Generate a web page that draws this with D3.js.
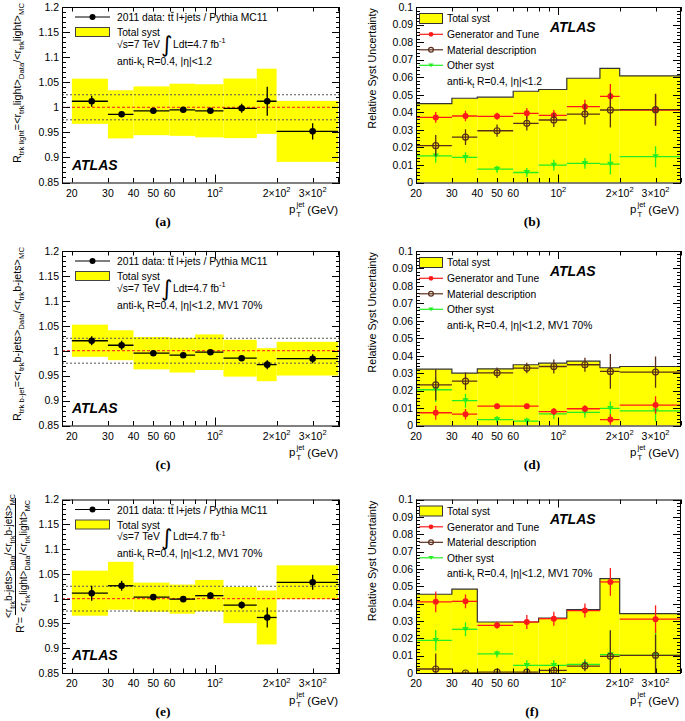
<!DOCTYPE html>
<html>
<head>
<meta charset="utf-8">
<script src="https://cdn.jsdelivr.net/npm/d3@7"></script>
<style>
  body { margin: 0; background: #fff; }
  svg { display: block; font-family: "Liberation Sans", Arial, sans-serif; }
</style>
</head>
<body>
<svg id="chart" width="685" height="721"></svg>
<script>
// ---- data ----
const binEdges = [20, 30, 40, 60, 80, 110, 160, 200, 400];
const binCenters = [25, 35, 50, 70, 95, 135, 180, 300];

const xTickVals = [20, 30, 40, 50, 60, 100, 200, 300];
const xTickLabels = [["20"], ["30"], ["40"], ["50"], ["60"], ["10", "2"], ["2\u00d710", "2"], ["3\u00d710", "2"]];
const xMinorTicks = [20, 30, 40, 50, 60, 70, 80, 90, 100, 200, 300, 400];

const ratioTicks = [0.85, 0.9, 0.95, 1, 1.05, 1.1, 1.15, 1.2];
const ratioTickLabels = ["0.85", "0.9", "0.95", "1", "1.05", "1.1", "1.15", "1.2"];
const systTicks = [0, 0.01, 0.02, 0.03, 0.04, 0.05, 0.06, 0.07, 0.08, 0.09, 0.1];
const systTickLabels = ["0", "0.01", "0.02", "0.03", "0.04", "0.05", "0.06", "0.07", "0.08", "0.09", "0.1"];

// (a) light jets ratio
const ratioLight = [1.012, 0.986, 0.993, 0.995, 0.993, 0.998, 1.012, 0.952];
const ratioLightErr = [0.011, 0.004, 0.004, 0.005, 0.005, 0.009, 0.029, 0.016];
// (b) light jets syst
const systLightTotal = [0.045, 0.048, 0.0486, 0.052, 0.053, 0.0594, 0.065, 0.0608];
const systLightGen = [0.0371, 0.0379, 0.0377, 0.0394, 0.0383, 0.0432, 0.0491, 0.0413];
const systLightGenErr = [0.003, 0.003, 0.002, 0.003, 0.003, 0.004, 0.007, 0.009];
const systLightMat = [0.021, 0.0259, 0.0295, 0.0337, 0.0356, 0.039, 0.0413, 0.0415];
const systLightMatErr = [0.006, 0.0045, 0.0035, 0.004, 0.004, 0.006, 0.010, 0.009];
const systLightOth = [0.0152, 0.0143, 0.0076, 0.0057, 0.0099, 0.0109, 0.0105, 0.0147];
const systLightOthErr = [0.004, 0.003, 0.002, 0.0025, 0.003, 0.003, 0.006, 0.006];

// (c) b-jets ratio
const ratioB = [1.020, 1.011, 0.995, 0.991, 0.997, 0.985, 0.972, 0.984];
const ratioBErr = [0.009, 0.009, 0.003, 0.003, 0.005, 0.003, 0.009, 0.009];
// (d) b-jets syst
const systBTotal = [0.0323, 0.030, 0.0325, 0.0348, 0.0357, 0.0369, 0.0331, 0.0338];
const systBGen = [0.0073, 0.0065, 0.0111, 0.0111, 0.008, 0.0096, 0.0034, 0.0117];
const systBGenErr = [0.004, 0.003, 0.0015, 0.0015, 0.002, 0.002, 0.003, 0.005];
const systBMat = [0.0233, 0.0254, 0.0302, 0.0329, 0.0338, 0.0348, 0.031, 0.0306];
const systBMatErr = [0.009, 0.005, 0.003, 0.003, 0.004, 0.004, 0.010, 0.009];
const systBOth = [0.0205, 0.0142, 0.0034, 0.0025, 0.0067, 0.0075, 0.0098, 0.0084];
const systBOthErr = [0.007, 0.004, 0.002, 0.002, 0.003, 0.003, 0.004, 0.006];

// (e) double ratio
const ratioDouble = [1.011, 1.026, 1.003, 0.999, 1.006, 0.987, 0.962, 1.033];
const ratioDoubleErr = [0.015, 0.010, 0.004, 0.005, 0.007, 0.007, 0.020, 0.015];
// (f) double ratio syst
const systDoubleTotal = [0.0454, 0.0483, 0.0294, 0.0294, 0.0317, 0.0365, 0.0544, 0.0342];
const systDoubleGen = [0.041, 0.0413, 0.0275, 0.0294, 0.0313, 0.036, 0.0525, 0.031];
const systDoubleGenErr = [0.006, 0.004, 0.002, 0.004, 0.004, 0.004, 0.008, 0.008];
const systDoubleMat = [0.0023, 0.0, 0.0005, 0.0005, 0.0015, 0.004, 0.0096, 0.0102];
const systDoubleMatErr = [0.009, 0.001, 0.001, 0.001, 0.002, 0.003, 0.015, 0.012];
const systDoubleOth = [0.0188, 0.0252, 0.011, 0.0044, 0.0044, 0.005, 0.0106, 0.0102];
const systDoubleOthErr = [0.006, 0.004, 0.002, 0.003, 0.003, 0.003, 0.014, 0.015];

// ---- layout ----
const rowTop = [7, 251, 499.5];
const rowBot = [182.5, 425.5, 673];
const leftX = [62, 340];
const rightX = [416, 681];
const YELLOW = "#ffff00";
const RED = "#ff1a1a";
const BROWN = "#5a2e1a";
const GREEN = "#22ee22";

const svg = d3.select("#chart");
svg.append("rect").attr("width", 685).attr("height", 721).attr("fill", "#fff");

// text with sub/superscripts: parts = [[str, 'n'|'b'|'p'], ...]
function rich(t, parts, size) {
  let cur = 0;
  parts.forEach(([s, m]) => {
    const off = m === "b" ? size * 0.3 : m === "p" ? -size * 0.42 : 0;
    t.append("tspan")
      .attr("dy", off - cur)
      .attr("font-size", m === "n" ? size : size * 0.72)
      .text(s);
    cur = off;
  });
  return t;
}

let clipId = 0;
function makeFrame(xr, yTop, yBot, xDomain, yDomain) {
  const x = d3.scaleLog().domain(xDomain).range(xr);
  const y = d3.scaleLinear().domain(yDomain).range([yBot, yTop]);
  const id = "clip" + (clipId++);
  svg.append("clipPath").attr("id", id).append("rect")
    .attr("x", xr[0]).attr("y", yTop).attr("width", xr[1] - xr[0]).attr("height", yBot - yTop);
  const g = svg.append("g").attr("clip-path", "url(#" + id + ")");
  return { x, y, g, xr, yTop, yBot };
}

function drawAxes(f, ticks, labels, minorStep) {
  const { x, y, xr, yTop, yBot } = f;
  const ax = svg.append("g").attr("stroke", "#000").attr("stroke-width", 1);
  // y ticks (left & right, inside)
  const [y0, y1] = y.domain();
  const nMinor = Math.round((y1 - y0) / minorStep);
  for (let i = 0; i <= nMinor; i++) {
    const v = y0 + i * minorStep;
    const major = ticks.some(t => Math.abs(t - v) < minorStep / 10);
    const len = major ? 8 : 4;
    const yy = Math.round(y(v)) + 0.5;
    ax.append("line").attr("x1", xr[0]).attr("x2", xr[0] + len).attr("y1", yy).attr("y2", yy);
    ax.append("line").attr("x1", xr[1]).attr("x2", xr[1] - len).attr("y1", yy).attr("y2", yy);
  }
  // x ticks (bottom & top, inside)
  xMinorTicks.forEach(v => {
    if (v < x.domain()[0] || v > x.domain()[1]) return;
    const len = v === 100 ? 8 : 4.5;
    const xx = Math.round(x(v)) + 0.5;
    ax.append("line").attr("x1", xx).attr("x2", xx).attr("y1", yBot).attr("y2", yBot - len);
    ax.append("line").attr("x1", xx).attr("x2", xx).attr("y1", yTop).attr("y2", yTop + len);
  });
  // frame
  svg.append("rect").attr("x", xr[0] + 0.5).attr("y", yTop + 0.5)
    .attr("width", xr[1] - xr[0] - 1).attr("height", yBot - yTop)
    .attr("fill", "none").attr("stroke", "#000").attr("stroke-width", 1);
  // y labels
  ticks.forEach((v, i) => {
    svg.append("text").attr("x", xr[0] - 3).attr("y", y(v) + 3.8)
      .attr("text-anchor", "end").attr("font-size", 10.5).text(labels[i]);
  });
  // x labels
  xTickVals.forEach((v, i) => {
    const t = svg.append("text").attr("x", x(v)).attr("y", yBot + 14)
      .attr("text-anchor", "middle").attr("font-size", 10.5);
    const lab = xTickLabels[i];
    if (lab.length === 1) t.text(lab[0]);
    else rich(t, [[lab[0], "n"], [lab[1], "p"]], 10.5);
  });
  // x title
  const xe = xr[1];
  svg.append("text").attr("x", xe - 51).attr("y", yBot + 30.5).attr("font-size", 11.5).text("p");
  svg.append("text").attr("x", xe - 43.5).attr("y", yBot + 24).attr("font-size", 7.5).text("jet");
  svg.append("text").attr("x", xe - 43.5).attr("y", yBot + 34).attr("font-size", 7.5).text("T");
  svg.append("text").attr("x", xe - 2).attr("y", yBot + 31.5).attr("text-anchor", "end")
    .attr("font-size", 11.5).text("(GeV)");
}

function panelLabel(cx, yBot, s) {
  svg.append("text").attr("x", cx).attr("y", yBot + 43).attr("text-anchor", "middle")
    .attr("font-family", "'Liberation Serif', 'Times New Roman', serif")
    .attr("font-weight", "bold").attr("font-size", 13.5).text(s);
}

function atlas(x, yb) {
  svg.append("text").attr("x", x).attr("y", yb).attr("font-size", 14)
    .attr("font-weight", "bold").attr("font-style", "italic").text("ATLAS");
}

function drawRatio(row, vals, errs, syst, label, yTitleParts, extra) {
  const f = makeFrame(leftX, rowTop[row], rowBot[row], [17.9, 408], [0.85, 1.2]);
  const { x, y, g } = f;
  // total syst band
  vals.forEach((v, i) => {
    g.append("rect").attr("x", x(binEdges[i])).attr("width", x(binEdges[i + 1]) - x(binEdges[i]))
      .attr("y", y(v + syst[i])).attr("height", y(v - syst[i]) - y(v + syst[i]))
      .attr("fill", YELLOW);
  });
  // reference lines
  [1.025, 0.975].forEach(v => {
    g.append("line").attr("x1", leftX[0]).attr("x2", leftX[1]).attr("y1", y(v)).attr("y2", y(v))
      .attr("stroke", "#555").attr("stroke-width", 1).attr("stroke-dasharray", "2,2");
  });
  g.append("line").attr("x1", leftX[0]).attr("x2", leftX[1]).attr("y1", y(1)).attr("y2", y(1))
    .attr("stroke", RED).attr("stroke-width", 1).attr("stroke-dasharray", "3,2");
  // data points
  vals.forEach((v, i) => {
    g.append("line").attr("x1", x(binEdges[i])).attr("x2", x(binEdges[i + 1]))
      .attr("y1", y(v)).attr("y2", y(v)).attr("stroke", "#000").attr("stroke-width", 1.3);
    g.append("line").attr("x1", x(binCenters[i])).attr("x2", x(binCenters[i]))
      .attr("y1", y(v - errs[i])).attr("y2", y(v + errs[i])).attr("stroke", "#000").attr("stroke-width", 1.3);
    g.append("circle").attr("cx", x(binCenters[i])).attr("cy", y(v)).attr("r", 3.3).attr("fill", "#000");
  });
  drawAxes(f, ratioTicks, ratioTickLabels, 0.01);

  // legend
  const t0 = rowTop[row];
  svg.append("line").attr("x1", 75).attr("x2", 110).attr("y1", t0 + 10).attr("y2", t0 + 10)
    .attr("stroke", "#000").attr("stroke-width", 1.2);
  svg.append("circle").attr("cx", 92.5).attr("cy", t0 + 10).attr("r", 3).attr("fill", "#000");
  const lt = svg.append("text").attr("x", 117).attr("y", t0 + 14).attr("font-size", 10.3)
    .text("2011 data: tt l+jets / Pythia MC11");
  // bar over the second t (t-tbar)
  const n = lt.node();
  const s0 = n.getStartPositionOfChar(12), e0 = n.getEndPositionOfChar(12);
  svg.append("line").attr("x1", s0.x + 0.3).attr("x2", e0.x + 0.3)
    .attr("y1", t0 + 5.3).attr("y2", t0 + 5.3).attr("stroke", "#000").attr("stroke-width", 0.8);
  svg.append("rect").attr("x", 75.5).attr("y", t0 + 20.5).attr("width", 34).attr("height", 9)
    .attr("fill", YELLOW).attr("stroke", "#444").attr("stroke-width", 1);
  svg.append("text").attr("x", 117).attr("y", t0 + 29).attr("font-size", 10.3).text("Total syst");
  svg.append("text").attr("x", 117).attr("y", t0 + 40.5).attr("font-size", 10.3).text("\u221As=7 TeV");
  svg.append("text").attr("x", 161).attr("y", t0 + 45).attr("font-size", 22)
    .attr("font-family", "'DejaVu Sans', sans-serif").text("\u222B");
  rich(svg.append("text").attr("x", 173).attr("y", t0 + 40.5), [["Ldt=4.7 fb", "n"], ["-1", "p"]], 10.3);
  rich(svg.append("text").attr("x", 117).attr("y", t0 + 57.5),
    [["anti-k", "n"], ["t", "b"], [" R=0.4, |\u03B7|<1.2" + extra, "n"]], 10.3);

  atlas(72, rowBot[row] - 13);
  panelLabel(163, rowBot[row], label);

  if (yTitleParts) {
    rich(svg.append("text").attr("transform", "translate(21," + (t0 - 4) + ") rotate(-90)")
      .attr("text-anchor", "end"), yTitleParts, 10.8);
  }
  return f;
}

function drawSyst(row, total, series, label, extra) {
  const f = makeFrame(rightX, rowTop[row], rowBot[row], [20, 400], [0, 0.1]);
  const { x, y, g } = f;
  // total syst histogram
  total.forEach((v, i) => {
    g.append("rect").attr("x", x(binEdges[i])).attr("width", x(binEdges[i + 1]) - x(binEdges[i]))
      .attr("y", y(v)).attr("height", y(0) - y(v)).attr("fill", YELLOW);
  });
  let d = "M" + x(binEdges[0]) + "," + y(0);
  total.forEach((v, i) => {
    d += "L" + x(binEdges[i]) + "," + y(v) + "L" + x(binEdges[i + 1]) + "," + y(v);
  });
  d += "L" + x(binEdges[binEdges.length - 1]) + "," + y(0);
  g.append("path").attr("d", d).attr("fill", "none").attr("stroke", "#333").attr("stroke-width", 1.2);

  series.forEach(s => {
    s.vals.forEach((v, i) => {
      const cx = x(binCenters[i]), cy = y(v);
      g.append("line").attr("x1", x(binEdges[i])).attr("x2", x(binEdges[i + 1]))
        .attr("y1", cy).attr("y2", cy).attr("stroke", s.color).attr("stroke-width", 1.3);
      g.append("line").attr("x1", cx).attr("x2", cx)
        .attr("y1", y(v - s.errs[i])).attr("y2", y(v + s.errs[i])).attr("stroke", s.color).attr("stroke-width", 1.3);
      marker(g, s.marker, cx, cy, s.color);
    });
  });
  drawAxes(f, systTicks, systTickLabels, 0.002);

  // legend
  const t0 = rowTop[row];
  svg.append("rect").attr("x", 419.5).attr("y", t0 + 6.5).attr("width", 23).attr("height", 10)
    .attr("fill", YELLOW).attr("stroke", "#333").attr("stroke-width", 1);
  svg.append("text").attr("x", 447).attr("y", t0 + 15).attr("font-size", 10.3).text("Total syst");
  const names = ["Generator and Tune", "Material description", "Other syst"];
  const legendOrder = [1, 2, 0];
  legendOrder.forEach((si, k) => {
    const s = series[si];
    const yy = t0 + 27.3 + k * 15.5;
    svg.append("line").attr("x1", 419).attr("x2", 443).attr("y1", yy).attr("y2", yy)
      .attr("stroke", s.color).attr("stroke-width", 1.2);
    marker(svg, s.marker, 431, yy, s.color, 0.8);
    svg.append("text").attr("x", 447).attr("y", yy + 3.8).attr("font-size", 10.3).text(names[k]);
  });
  rich(svg.append("text").attr("x", 447).attr("y", t0 + 77.5),
    [["anti-k", "n"], ["t", "b"], [" R=0.4, |\u03B7|<1.2" + extra, "n"]], 10.3);
  atlas(550, t0 + 24.5);
  panelLabel(532, rowBot[row], label);
  svg.append("text").attr("transform", "translate(376," + (t0 + 1) + ") rotate(-90)")
    .attr("text-anchor", "end").attr("font-size", 10.8).text("Relative Syst Uncertainty");
  return f;
}

function marker(g, type, cx, cy, color, sc = 1) {
  if (type === "dot") {
    g.append("circle").attr("cx", cx).attr("cy", cy).attr("r", 3 * sc).attr("fill", color);
  } else if (type === "open") {
    g.append("circle").attr("cx", cx).attr("cy", cy).attr("r", 3 * sc).attr("fill", "none")
      .attr("stroke", color).attr("stroke-width", 1.2);
  } else {
    const w = 3.3 * sc, h = 4.8 * sc;
    g.append("path").attr("d", `M${cx - w},${cy - h / 2}L${cx + w},${cy - h / 2}L${cx},${cy + h / 2}Z`)
      .attr("fill", color);
  }
}

function seriesOf(oth, othE, gen, genE, mat, matE) {
  return [
    { vals: oth, errs: othE, color: GREEN, marker: "tri" },
    { vals: gen, errs: genE, color: RED, marker: "dot" },
    { vals: mat, errs: matE, color: BROWN, marker: "open" }
  ];
}

// ---- panels ----
drawRatio(0, ratioLight, ratioLightErr, systLightTotal, "(a)",
  [["R", "n"], ["trk light", "b"], ["=<r", "n"], ["trk", "b"], ["light>", "n"], ["Data", "b"],
   ["/<r", "n"], ["trk", "b"], ["light>", "n"], ["MC", "b"]], "");
drawSyst(0, systLightTotal,
  seriesOf(systLightOth, systLightOthErr, systLightGen, systLightGenErr, systLightMat, systLightMatErr), "(b)", "");

drawRatio(1, ratioB, ratioBErr, systBTotal, "(c)",
  [["R", "n"], ["trk b-jet", "b"], ["=<r", "n"], ["trk", "b"], ["b-jets>", "n"], ["Data", "b"],
   ["/<r", "n"], ["trk", "b"], ["b-jets>", "n"], ["MC", "b"]], ", MV1 70%");
drawSyst(1, systBTotal,
  seriesOf(systBOth, systBOthErr, systBGen, systBGenErr, systBMat, systBMatErr), "(d)", ", MV1 70%");

drawRatio(2, ratioDouble, ratioDoubleErr, systDoubleTotal, "(e)", null, ", MV1 70%");
drawSyst(2, systDoubleTotal,
  seriesOf(systDoubleOth, systDoubleOthErr, systDoubleGen, systDoubleGenErr, systDoubleMat, systDoubleMatErr), "(f)", ", MV1 70%");

// (e) y title: R' = fraction
(function () {
  const cy = 556;
  const gt = svg.append("g").attr("transform", "translate(0," + cy + ")");
  rich(gt.append("text").attr("transform", "translate(12,0) rotate(-90)").attr("text-anchor", "middle"),
    [["<r", "n"], ["trk", "b"], ["b-jets>", "n"], ["Data", "b"], ["/<r", "n"], ["trk", "b"], ["b-jets>", "n"], ["MC", "b"]], 10);
  rich(gt.append("text").attr("transform", "translate(27,0) rotate(-90)").attr("text-anchor", "middle"),
    [["<r", "n"], ["trk", "b"], ["light>", "n"], ["Data", "b"], ["/<r", "n"], ["trk", "b"], ["light>", "n"], ["MC", "b"]], 10);
  gt.append("line").attr("x1", 15.5).attr("x2", 15.5).attr("y1", -58).attr("y2", 59)
    .attr("stroke", "#000").attr("stroke-width", 1);
  svg.append("text").attr("transform", "translate(23.5,633) rotate(-90)").attr("font-size", 10.8).text("R'=");
})();
</script>
</body>
</html>
